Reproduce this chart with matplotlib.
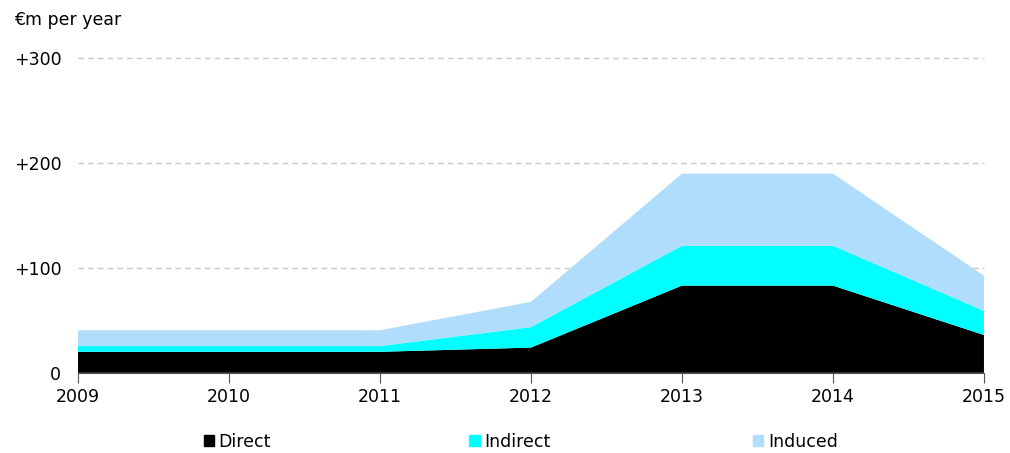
import numpy as np
import matplotlib.pyplot as plt
from matplotlib.patches import Patch

plt.rcParams['font.family'] = ['DejaVu Sans']

# data (EUR m per year)
years = [2009, 2010, 2011, 2012, 2013, 2014, 2015]
direct = [20, 20, 20, 24, 83, 83, 36]
indirect = [5.5, 5.5, 5.5, 19.5, 38, 38, 23]
induced = [15, 15, 15, 24, 68.5, 68.5, 33.5]

series_names = ['Direct', 'Indirect', 'Induced']
colors = ['#000000', '#00ffff', '#b0ddfb']
yticks = [0, 100, 200, 300]
ytick_labels = ['0', '+100', '+200', '+300']

fig = plt.figure(figsize=(10.10, 4.53), dpi=100)
ax = fig.add_axes([0.0772, 0.177, 0.897, 0.696])

ax.stackplot(years, direct, indirect, induced, colors=colors, linewidth=0, zorder=2)

# dashed grid lines
for v in yticks[1:]:
    ax.axhline(v, color='#c8c8c8', linestyle=(0, (4, 3)), linewidth=1, zorder=1, clip_on=False)

ax.set_xlim(years[0], years[-1])
ax.set_ylim(0, 300)
ax.set_xticks(years)
ax.set_yticks(yticks)
ax.set_yticklabels(ytick_labels)

for s in ['top', 'right', 'left']:
    ax.spines[s].set_visible(False)
ax.spines['bottom'].set_color('#555555')
ax.spines['bottom'].set_zorder(3)
ax.tick_params(axis='x', length=7, color='#555555', labelsize=12.5, pad=4)
ax.tick_params(axis='y', length=0, labelsize=12.5, pad=12)

fig.text(0.014, 0.955, '€m per year', fontsize=12.5, va='center', ha='left')

# legend entries placed one by one along the bottom
legend_x = [0.193, 0.456, 0.737]
for name, c, lx in zip(series_names, colors, legend_x):
    fig.legend([Patch(color=c)], [name], loc='center left',
               bbox_to_anchor=(lx, 0.025), frameon=False, fontsize=12.5,
               handlelength=0.6, handleheight=0.6, handletextpad=0.25,
               borderpad=0)

fig.savefig('out.png', dpi=100)
